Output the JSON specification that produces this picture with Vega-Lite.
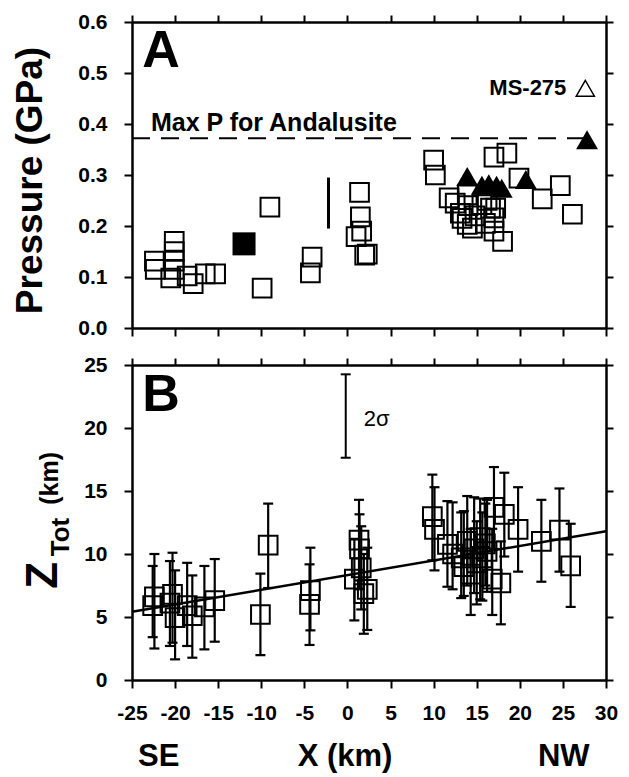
{
  "$schema": "https://vega.github.io/schema/vega-lite/v6.json",
  "padding": {"left": 11, "top": 11, "right": 10, "bottom": 5},
  "bounds": "flush",
  "spacing": 37,
  "background": "white",
  "config": {
    "font": "Liberation Sans",
    "view": {"stroke": null},
    "style": {"guide-label": {"font": "Liberation Sans", "fontSize": 20, "fontWeight": "bold", "fill": "black"}},
    "axis": {
      "domainColor": "black", "domainWidth": 2.5, "tickColor": "black", "tickWidth": 2, "tickSize": 8,
      "labelFont": "Liberation Sans", "labelFontSize": 20, "labelFontWeight": "bold", "labelColor": "black",
      "grid": false, "labelFlush": false, "labelOverlap": false,
      "titleColor": "black", "titleFont": "Liberation Sans", "titleFontWeight": "bold"
    }
  },
  "datasets": {
    "aSq": [
      {"x": -22.4, "y": 0.131}, {"x": -22.3, "y": 0.115}, {"x": -20.1, "y": 0.170}, {"x": -20.1, "y": 0.150},
      {"x": -20.1, "y": 0.131}, {"x": -20.1, "y": 0.115}, {"x": -20.5, "y": 0.098}, {"x": -18.6, "y": 0.102},
      {"x": -17.9, "y": 0.087}, {"x": -16.5, "y": 0.106}, {"x": -15.3, "y": 0.106},
      {"x": -9.9, "y": 0.078}, {"x": -9.0, "y": 0.237}, {"x": -4.1, "y": 0.139}, {"x": -4.3, "y": 0.108},
      {"x": 1.4, "y": 0.266}, {"x": 1.5, "y": 0.218}, {"x": 1.65, "y": 0.190}, {"x": 1.0, "y": 0.179},
      {"x": 2.0, "y": 0.143}, {"x": 2.3, "y": 0.145},
      {"x": 10.0, "y": 0.329}, {"x": 10.2, "y": 0.300}, {"x": 17.0, "y": 0.335}, {"x": 18.5, "y": 0.343},
      {"x": 19.9, "y": 0.294}, {"x": 11.8, "y": 0.255}, {"x": 12.5, "y": 0.245}, {"x": 13.1, "y": 0.225},
      {"x": 13.3, "y": 0.215}, {"x": 13.9, "y": 0.203}, {"x": 14.5, "y": 0.196}, {"x": 13.9, "y": 0.261},
      {"x": 14.0, "y": 0.240}, {"x": 14.8, "y": 0.220}, {"x": 15.6, "y": 0.242}, {"x": 16.2, "y": 0.250},
      {"x": 16.6, "y": 0.235}, {"x": 17.0, "y": 0.216}, {"x": 17.2, "y": 0.235}, {"x": 16.0, "y": 0.205},
      {"x": 17.0, "y": 0.190}, {"x": 18.0, "y": 0.170}, {"x": 22.6, "y": 0.253}, {"x": 24.7, "y": 0.279},
      {"x": 26.1, "y": 0.223}
    ],
    "aTri": [
      {"x": 13.9, "y": 0.297}, {"x": 15.6, "y": 0.280}, {"x": 16.4, "y": 0.283}, {"x": 17.3, "y": 0.280},
      {"x": 17.9, "y": 0.274}, {"x": 20.7, "y": 0.291}, {"x": 27.8, "y": 0.369}
    ],
    "bPts": [
      {"x": -22.4, "y": 6.6, "lo": 2.5, "hi": 10.0},
      {"x": -22.6, "y": 5.9, "lo": 3.4, "hi": 9.05},
      {"x": -20.3, "y": 6.8, "lo": 2.96, "hi": 10.1},
      {"x": -20.6, "y": 6.1, "lo": 2.7, "hi": 9.44},
      {"x": -20.0, "y": 4.95, "lo": 1.64, "hi": 8.7},
      {"x": -18.6, "y": 5.9, "lo": 2.7, "hi": 9.3},
      {"x": -18.0, "y": 5.1, "lo": 1.77, "hi": 8.3},
      {"x": -16.6, "y": 5.8, "lo": 2.43, "hi": 9.05},
      {"x": -15.4, "y": 6.3, "lo": 3.04, "hi": 9.6},
      {"x": -10.1, "y": 5.2, "lo": 1.98, "hi": 8.44},
      {"x": -9.2, "y": 10.7, "lo": 7.3, "hi": 14.0},
      {"x": -4.3, "y": 7.1, "lo": 3.94, "hi": 10.5},
      {"x": -4.4, "y": 6.0, "lo": 2.78, "hi": 9.18},
      {"x": 0.8, "y": 8.0, "lo": 4.73, "hi": 11.2},
      {"x": 1.34, "y": 11.1, "lo": 7.9, "hi": 14.3},
      {"x": 1.4, "y": 10.4, "lo": 7.2, "hi": 13.15},
      {"x": 1.6, "y": 8.9, "lo": 5.6, "hi": 12.2},
      {"x": 2.3, "y": 7.2, "lo": 3.97, "hi": 10.5},
      {"x": 1.9, "y": 6.85, "lo": 3.67, "hi": 10.0},
      {"x": 9.85, "y": 12.96, "lo": 9.5, "hi": 16.3},
      {"x": 10.1, "y": 11.96, "lo": 8.7, "hi": 15.3},
      {"x": 11.6, "y": 10.77, "lo": 7.4, "hi": 14.2},
      {"x": 12.2, "y": 10.0, "lo": 7.2, "hi": 14.1},
      {"x": 13.2, "y": 9.7, "lo": 6.5, "hi": 13.3},
      {"x": 13.5, "y": 9.0, "lo": 6.67, "hi": 13.4},
      {"x": 13.9, "y": 11.0, "lo": 7.5, "hi": 14.6},
      {"x": 14.3, "y": 8.4, "lo": 5.16, "hi": 12.0},
      {"x": 14.7, "y": 10.4, "lo": 6.9, "hi": 14.5},
      {"x": 15.0, "y": 9.3, "lo": 6.0, "hi": 12.6},
      {"x": 15.4, "y": 11.3, "lo": 6.4, "hi": 14.4},
      {"x": 15.65, "y": 9.7, "lo": 6.3, "hi": 13.3},
      {"x": 16.0, "y": 10.8, "lo": 7.5, "hi": 14.0},
      {"x": 16.2, "y": 10.2, "lo": 7.0, "hi": 14.3},
      {"x": 16.8, "y": 8.0, "lo": 5.16, "hi": 12.0},
      {"x": 17.0, "y": 13.7, "lo": 10.4, "hi": 16.9},
      {"x": 18.2, "y": 13.15, "lo": 9.8, "hi": 16.45},
      {"x": 17.8, "y": 7.7, "lo": 4.42, "hi": 11.0},
      {"x": 19.8, "y": 11.96, "lo": 8.6, "hi": 15.3},
      {"x": 22.5, "y": 11.0, "lo": 7.8, "hi": 14.3},
      {"x": 24.6, "y": 11.9, "lo": 8.6, "hi": 15.2},
      {"x": 25.9, "y": 9.05, "lo": 5.8, "hi": 12.4}
    ]
  },
  "vconcat": [
    {
      "width": 474,
      "height": 306,
      "encoding": {
        "x": {"field": "x", "type": "quantitative", "scale": {"domain": [-25, 30], "nice": false, "zero": false}, "axis": null},
        "y": {"field": "y", "type": "quantitative", "scale": {"domain": [0, 0.6], "nice": false, "zero": false}, "axis": null}
      },
      "layer": [
        {
          "data": {"values": [{"x": -25, "x2": 27.8, "y": 0.372}]},
          "mark": {"type": "rule", "color": "black", "strokeWidth": 2, "strokeDash": [18, 11]},
          "encoding": {
            "x": {"field": "x", "type": "quantitative", "scale": {"domain": [-25, 30], "nice": false, "zero": false},
                  "axis": {"orient": "bottom", "values": [-25, -20, -15, -10, -5, 0, 5, 10, 15, 20, 25, 30], "labels": false, "title": null,
                           "domainColor": "black", "domainWidth": 2.5, "tickColor": "black", "tickWidth": 2, "tickSize": 8}},
            "x2": {"field": "x2"},
            "y": {"field": "y", "type": "quantitative", "scale": {"domain": [0, 0.6], "nice": false, "zero": false},
                  "axis": {"orient": "left", "values": [0, 0.1, 0.2, 0.3, 0.4, 0.5, 0.6], "format": ".1f", "labelPadding": 17,
                           "labelFont": "Liberation Sans", "labelFontSize": 21, "labelFontWeight": 700, "labelColor": "black",
                           "labelFlush": false, "labelOverlap": false,
                           "domainColor": "black", "domainWidth": 2.5, "tickColor": "black", "tickWidth": 2, "tickSize": 8,
                           "title": "Pressure (GPa)", "titleFont": "Liberation Sans", "titleFontWeight": "bold", "titleColor": "black",
                           "titleFontSize": 37, "titleAngle": 270, "titleX": -102, "titleY": 158,
                           "titleAlign": "center", "titleBaseline": "middle"}}
          }
        },
        {
          "data": {"values": [{"x": -2.2, "lo": 0.195, "hi": 0.295}]},
          "mark": {"type": "rule", "color": "black", "strokeWidth": 3},
          "encoding": {
            "x": {"field": "x", "type": "quantitative", "scale": {"domain": [-25, 30], "nice": false, "zero": false},
                  "axis": {"orient": "top", "values": [-25, -20, -15, -10, -5, 0, 5, 10, 15, 20, 25, 30], "labels": false, "title": null,
                           "domainColor": "black", "domainWidth": 2.5, "tickColor": "black", "tickWidth": 2, "tickSize": 7}},
            "y": {"field": "lo", "type": "quantitative", "scale": {"domain": [0, 0.6], "nice": false, "zero": false},
                  "axis": {"orient": "right", "values": [0, 0.1, 0.2, 0.3, 0.4, 0.5, 0.6], "labels": false, "title": null,
                           "domainColor": "black", "domainWidth": 2.5, "tickColor": "black", "tickWidth": 2, "tickSize": 7}},
            "y2": {"field": "hi"}
          }
        },
        {
          "data": {"name": "aSq"},
          "mark": {"type": "point", "shape": "square", "filled": false, "size": 350, "strokeWidth": 2, "color": "black", "opacity": 1}
        },
        {
          "data": {"values": [{"x": -12.0, "y": 0.165}]},
          "mark": {"type": "point", "shape": "square", "filled": true, "size": 530, "color": "black", "opacity": 1}
        },
        {
          "data": {"name": "aTri"},
          "mark": {"type": "point", "shape": "triangle-up", "filled": true, "size": 480, "color": "black", "opacity": 1}
        },
        {
          "data": {"values": [{"x": 27.6, "y": 0.47}]},
          "mark": {"type": "point", "shape": "triangle-up", "filled": false, "size": 330, "strokeWidth": 1.5, "color": "black", "opacity": 1}
        },
        {
          "data": {"values": [{"x": -23.8, "y": 0.512, "t": "A"}]},
          "mark": {"type": "text", "font": "Liberation Sans", "fontSize": 52, "fontWeight": "bold", "align": "left", "baseline": "alphabetic", "color": "black"},
          "encoding": {"text": {"field": "t"}}
        },
        {
          "data": {"values": [{"x": -22.8, "y": 0.387, "t": "Max P for Andalusite"}]},
          "mark": {"type": "text", "font": "Liberation Sans", "fontSize": 25, "fontWeight": "bold", "align": "left", "baseline": "alphabetic", "color": "black"},
          "encoding": {"text": {"field": "t"}}
        },
        {
          "data": {"values": [{"x": 25.4, "y": 0.457, "t": "MS-275"}]},
          "mark": {"type": "text", "font": "Liberation Sans", "fontSize": 22, "fontWeight": "bold", "align": "right", "baseline": "alphabetic", "color": "black"},
          "encoding": {"text": {"field": "t"}}
        }
      ],
      "resolve": {"axis": {"x": "independent", "y": "independent"}}
    },
    {
      "width": 474,
      "height": 315,
      "encoding": {
        "x": {"field": "x", "type": "quantitative", "scale": {"domain": [-25, 30], "nice": false, "zero": false}, "axis": null},
        "y": {"field": "y", "type": "quantitative", "scale": {"domain": [0, 25], "nice": false, "zero": false}, "axis": null}
      },
      "layer": [
        {
          "data": {"values": [{"x": -25, "y": 5.42}, {"x": 30, "y": 11.8}]},
          "mark": {"type": "line", "color": "black", "strokeWidth": 2.5},
          "encoding": {
            "x": {"field": "x", "type": "quantitative", "scale": {"domain": [-25, 30], "nice": false, "zero": false},
                  "axis": {"orient": "bottom", "values": [-25, -20, -15, -10, -5, 0, 5, 10, 15, 20, 25, 30], "labelPadding": 14, "title": null,
                           "labelFont": "Liberation Sans", "labelFontSize": 21, "labelFontWeight": 700, "labelColor": "black",
                           "labelFlush": false, "labelOverlap": false,
                           "domainColor": "black", "domainWidth": 2.5, "tickColor": "black", "tickWidth": 2, "tickSize": 8,
                           "labelExpr": "datum.value < 0 ? '-' + (-datum.value) : '' + datum.value"}},
            "y": {"field": "y", "type": "quantitative", "scale": {"domain": [0, 25], "nice": false, "zero": false},
                  "axis": {"orient": "left", "values": [0, 5, 10, 15, 20, 25], "labelPadding": 17, "title": null,
                           "labelFont": "Liberation Sans", "labelFontSize": 21, "labelFontWeight": 700, "labelColor": "black",
                           "labelFlush": false, "labelOverlap": false,
                           "domainColor": "black", "domainWidth": 2.5, "tickColor": "black", "tickWidth": 2, "tickSize": 8}}
          }
        },
        {
          "data": {"values": [{"x": -0.2, "lo": 17.64, "hi": 24.26}]},
          "mark": {"type": "rule", "color": "black", "strokeWidth": 2},
          "encoding": {
            "x": {"field": "x", "type": "quantitative", "scale": {"domain": [-25, 30], "nice": false, "zero": false},
                  "axis": {"orient": "top", "values": [-25, -20, -15, -10, -5, 0, 5, 10, 15, 20, 25, 30], "labels": false, "title": null,
                           "domainColor": "black", "domainWidth": 2.5, "tickColor": "black", "tickWidth": 2, "tickSize": 7}},
            "y": {"field": "lo", "type": "quantitative", "scale": {"domain": [0, 25], "nice": false, "zero": false},
                  "axis": {"orient": "right", "values": [0, 5, 10, 15, 20, 25], "labels": false, "title": null,
                           "domainColor": "black", "domainWidth": 2.5, "tickColor": "black", "tickWidth": 2, "tickSize": 7}},
            "y2": {"field": "hi"}
          }
        },
        {
          "data": {"values": [{"x": -0.2, "y": 17.64}, {"x": -0.2, "y": 24.26}]},
          "mark": {"type": "tick", "orient": "horizontal", "size": 10, "thickness": 2, "color": "black", "opacity": 1}
        },
        {
          "data": {"name": "bPts"},
          "mark": {"type": "rule", "color": "black", "strokeWidth": 2.2},
          "encoding": {"y": {"field": "lo", "type": "quantitative"}, "y2": {"field": "hi"}}
        },
        {
          "data": {"name": "bPts"},
          "mark": {"type": "tick", "orient": "horizontal", "size": 10, "thickness": 2.2, "color": "black", "opacity": 1},
          "encoding": {"y": {"field": "lo", "type": "quantitative"}}
        },
        {
          "data": {"name": "bPts"},
          "mark": {"type": "tick", "orient": "horizontal", "size": 10, "thickness": 2.2, "color": "black", "opacity": 1},
          "encoding": {"y": {"field": "hi", "type": "quantitative"}}
        },
        {
          "data": {"name": "bPts"},
          "mark": {"type": "point", "shape": "square", "filled": false, "size": 350, "strokeWidth": 2, "color": "black", "opacity": 1}
        },
        {
          "data": {"values": [{"x": -23.8, "y": 21.35, "t": "B"}]},
          "mark": {"type": "text", "font": "Liberation Sans", "fontSize": 52, "fontWeight": "bold", "align": "left", "baseline": "alphabetic", "color": "black"},
          "encoding": {"text": {"field": "t"}}
        },
        {
          "data": {"values": [{"x": 1.9, "y": 20.16, "t": "2σ"}]},
          "mark": {"type": "text", "font": "Liberation Sans", "fontSize": 22, "align": "left", "baseline": "alphabetic", "color": "black"},
          "encoding": {"text": {"field": "t"}}
        },
        {
          "data": {"values": [{"x": -21.9, "y": -6.83, "t": "SE"}, {"x": -0.28, "y": -6.83, "t": "X (km)"}, {"x": 25.1, "y": -6.83, "t": "NW"}]},
          "mark": {"type": "text", "font": "Liberation Sans", "fontSize": 31, "fontWeight": "bold", "align": "center", "baseline": "alphabetic", "color": "black"},
          "encoding": {"text": {"field": "t"}}
        },
        {
          "data": {"values": [{"x": -33.7, "y": 8.3, "t": "Z"}]},
          "mark": {"type": "text", "font": "Liberation Sans", "fontSize": 44, "fontWeight": "bold", "align": "center", "baseline": "alphabetic", "angle": 270, "color": "black"},
          "encoding": {"text": {"field": "t"}}
        },
        {
          "data": {"values": [{"x": -32.3, "y": 11.35, "t": "Tot"}]},
          "mark": {"type": "text", "font": "Liberation Sans", "fontSize": 26, "fontWeight": "bold", "align": "center", "baseline": "alphabetic", "angle": 270, "color": "black"},
          "encoding": {"text": {"field": "t"}}
        },
        {
          "data": {"values": [{"x": -33.6, "y": 16.0, "t": "(km)"}]},
          "mark": {"type": "text", "font": "Liberation Sans", "fontSize": 25, "fontWeight": "bold", "align": "center", "baseline": "alphabetic", "angle": 270, "color": "black"},
          "encoding": {"text": {"field": "t"}}
        }
      ],
      "resolve": {"axis": {"x": "independent", "y": "independent"}}
    }
  ]
}
